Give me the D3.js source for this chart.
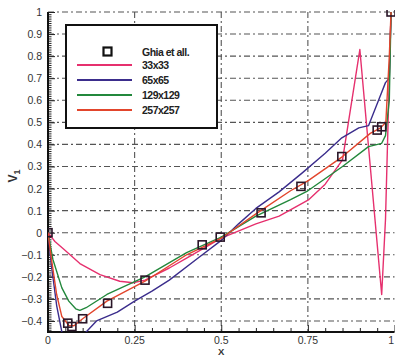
<!DOCTYPE html>
<html>
<head>
<meta charset="utf-8">
<script src="https://cdn.jsdelivr.net/npm/d3@7"></script>
<style>
  body { margin: 0; background: #fff; }
  svg { display: block; }
  text { font-family: "Liberation Sans", Arial, sans-serif; }
</style>
</head>
<body>
<svg width="395" height="355"></svg>
<script>
// Ghia et al. reference points
let ghiaX = [0, 0.057, 0.069, 0.10, 0.172, 0.28, 0.445, 0.497, 0.615, 0.73, 0.848, 0.95, 0.963, 0.99];
let ghiaV = [0, -0.41, -0.425, -0.39, -0.32, -0.215, -0.055, -0.02, 0.09, 0.21, 0.345, 0.465, 0.48, 1.0];

// 33x33
let x33 = [0, 0.02, 0.049, 0.092, 0.15, 0.207, 0.245, 0.28, 0.35, 0.4, 0.5, 0.6, 0.667, 0.753, 0.8, 0.85, 0.9, 0.963, 0.974, 0.99];
let v33 = [0, -0.04, -0.08, -0.14, -0.19, -0.22, -0.227, -0.215, -0.16, -0.115, -0.025, 0.04, 0.075, 0.15, 0.22, 0.33, 0.83, -0.28, 0.06, 1.0];

// 65x65
let x65 = [0, 0.01, 0.025, 0.04, 0.06, 0.085, 0.11, 0.14, 0.2, 0.25, 0.3, 0.35, 0.437, 0.5, 0.55, 0.6, 0.667, 0.733, 0.8, 0.848, 0.897, 0.925, 0.954, 0.974, 0.985, 0.99];
let v65 = [0, -0.15, -0.33, -0.45, -0.49, -0.49, -0.45, -0.40, -0.36, -0.31, -0.265, -0.215, -0.11, -0.035, 0.04, 0.11, 0.185, 0.27, 0.36, 0.43, 0.475, 0.485, 0.6, 0.68, 0.7, 1.0];

// 129x129
let x129 = [0, 0.014, 0.04, 0.06, 0.08, 0.092, 0.11, 0.17, 0.28, 0.4, 0.5, 0.6, 0.7, 0.75, 0.85, 0.925, 0.963, 0.974, 0.985, 0.99];
let v129 = [0, -0.12, -0.25, -0.31, -0.345, -0.352, -0.34, -0.28, -0.2, -0.09, -0.02, 0.075, 0.15, 0.19, 0.3, 0.39, 0.405, 0.44, 0.6, 1.0];

// 257x257
let x257 = [0, 0.01, 0.025, 0.04, 0.06, 0.075, 0.1, 0.17, 0.28, 0.4, 0.5, 0.6, 0.7, 0.75, 0.85, 0.93, 0.96, 0.975, 0.985, 0.99];
let v257 = [0, -0.12, -0.28, -0.38, -0.42, -0.422, -0.39, -0.31, -0.22, -0.1, -0.025, 0.085, 0.19, 0.235, 0.345, 0.45, 0.475, 0.5, 0.8, 1.0];

let seriesNames = ["33x33", "65x65", "129x129", "257x257"];
let seriesColors = ["#e6306e", "#3b2d8c", "#23883c", "#e2452c"];

let xTicks = [0, 0.25, 0.5, 0.75, 1];
let yTicks = [-0.4, -0.3, -0.2, -0.1, 0, 0.1, 0.2, 0.3, 0.4, 0.5, 0.6, 0.7, 0.8, 0.9, 1];

let svg = d3.select("svg");

let x = d3.scaleLinear().domain([0, 1]).range([48, 394.5]);
let y = d3.scaleLinear().domain([-0.45, 1]).range([332, 12]);

svg.append("clipPath").attr("id", "plot")
  .append("rect")
  .attr("x", x(0)).attr("y", y(1) - 2)
  .attr("width", x(1) - x(0) + 4).attr("height", y(-0.45) - y(1) + 2);

// grid, dash-dot
let grid = svg.append("g")
  .attr("stroke", "#555")
  .attr("stroke-width", 1.1)
  .attr("stroke-dasharray", "6,3,2,3");

grid.selectAll(".hg")
  .data(yTicks)
  .enter().append("line")
  .attr("x1", x(0)).attr("x2", x(1))
  .attr("y1", d => y(d)).attr("y2", d => y(d));

grid.selectAll(".vg")
  .data([0.25, 0.5, 0.75])
  .enter().append("line")
  .attr("x1", d => x(d)).attr("x2", d => x(d))
  .attr("y1", y(1)).attr("y2", y(-0.45));

// axes: ticks pointing inward
let xAxis = d3.axisTop(x)
  .tickValues(d3.range(0, 1.001, 0.05))
  .tickSize(4)
  .tickFormat("");
let xg = svg.append("g").attr("transform", "translate(0," + y(-0.45) + ")").call(xAxis);
xg.selectAll(".tick line").attr("y2", (d, i) => i % 5 === 0 ? -7 : -4);

let yAxis = d3.axisRight(y)
  .tickValues(d3.range(-0.45, 1.001, 0.01).map(d => +d.toFixed(2)))
  .tickSize(3)
  .tickFormat("");
let yg = svg.append("g").attr("transform", "translate(" + x(0) + ",0)").call(yAxis);
yg.selectAll(".tick line").attr("x2", d => Math.abs(Math.round(d * 10) - d * 10) < 1e-6 ? 7 : 3.5);

[xg, yg].forEach(g => {
  g.select(".domain").remove();
  g.selectAll(".tick line").attr("stroke", "#222").attr("stroke-width", 1);
});

svg.append("line")
  .attr("x1", x(0)).attr("x2", x(0)).attr("y1", y(1)).attr("y2", y(-0.45) + 1)
  .attr("stroke", "#111").attr("stroke-width", 2);
svg.append("line")
  .attr("x1", x(0) - 1).attr("x2", x(1)).attr("y1", y(-0.45)).attr("y2", y(-0.45))
  .attr("stroke", "#111").attr("stroke-width", 2);

// tick labels
svg.selectAll(".yl")
  .data(yTicks)
  .enter().append("text")
  .attr("x", 42).attr("y", d => y(d) + 4)
  .attr("text-anchor", "end")
  .attr("font-size", 10.5)
  .attr("fill", "#333")
  .text(d => d === 0 ? "0" : d3.format("")(d));

svg.selectAll(".xl")
  .data(xTicks)
  .enter().append("text")
  .attr("x", d => d === 1 ? 394 : x(d)).attr("y", 344)
  .attr("text-anchor", d => d === 1 ? "end" : "middle")
  .attr("font-size", 10.5)
  .attr("fill", "#333")
  .text(d => d3.format("")(d));

svg.append("text")
  .attr("x", x(0.5)).attr("y", 354.5)
  .attr("text-anchor", "middle")
  .attr("font-size", 9.5).attr("font-weight", "bold")
  .attr("fill", "#333")
  .text("X");

let yLabel = svg.append("text")
  .attr("transform", "translate(17,176) rotate(-90)")
  .attr("text-anchor", "middle")
  .attr("font-size", 12).attr("font-weight", "bold")
  .attr("fill", "#333");
yLabel.append("tspan").text("V");
yLabel.append("tspan").attr("font-size", 9).attr("dy", 3).text("1");

// curves
let line = d3.line().x(d => x(d[0])).y(d => y(d[1]));
let curves = [d3.zip(x33, v33), d3.zip(x65, v65), d3.zip(x129, v129), d3.zip(x257, v257)];

let plot = svg.append("g").attr("clip-path", "url(#plot)");
plot.selectAll("path.curve")
  .data(curves)
  .enter().append("path")
  .attr("class", "curve")
  .attr("d", line)
  .attr("fill", "none")
  .attr("stroke", (d, i) => seriesColors[i])
  .attr("stroke-width", 1.4)
  .attr("stroke-linejoin", "round");

plot.selectAll("rect.ghia")
  .data(d3.zip(ghiaX, ghiaV))
  .enter().append("rect")
  .attr("class", "ghia")
  .attr("x", d => x(d[0]) - 4).attr("y", d => y(d[1]) - 4)
  .attr("width", 8).attr("height", 8)
  .attr("fill", "none")
  .attr("stroke", "#2a1628")
  .attr("stroke-width", 1.6);

// legend
let lg = svg.append("g");
lg.append("rect")
  .attr("x", 66).attr("y", 25).attr("width", 151).attr("height", 103)
  .attr("fill", "#fff").attr("stroke", "#111").attr("stroke-width", 2);

lg.append("rect")
  .attr("x", 103.5).attr("y", 47.5).attr("width", 8).attr("height", 8)
  .attr("fill", "none").attr("stroke", "#111").attr("stroke-width", 2.2);
lg.append("text")
  .attr("x", 142).attr("y", 56)
  .attr("font-size", 10.5).attr("font-weight", "bold").attr("letter-spacing", -0.5)
  .attr("fill", "#222")
  .text("Ghia et all.");

let entries = lg.selectAll("g.entry")
  .data(seriesNames)
  .enter().append("g")
  .attr("class", "entry")
  .attr("transform", (d, i) => "translate(0," + (65 + i * 15) + ")");

entries.append("line")
  .attr("x1", 77).attr("x2", 132)
  .attr("stroke", (d, i) => seriesColors[i])
  .attr("stroke-width", 2);

entries.append("text")
  .attr("x", 142).attr("y", 4)
  .attr("font-size", 10.5).attr("font-weight", "bold").attr("letter-spacing", -0.5)
  .attr("fill", "#222")
  .text(d => d);
</script>
</body>
</html>
